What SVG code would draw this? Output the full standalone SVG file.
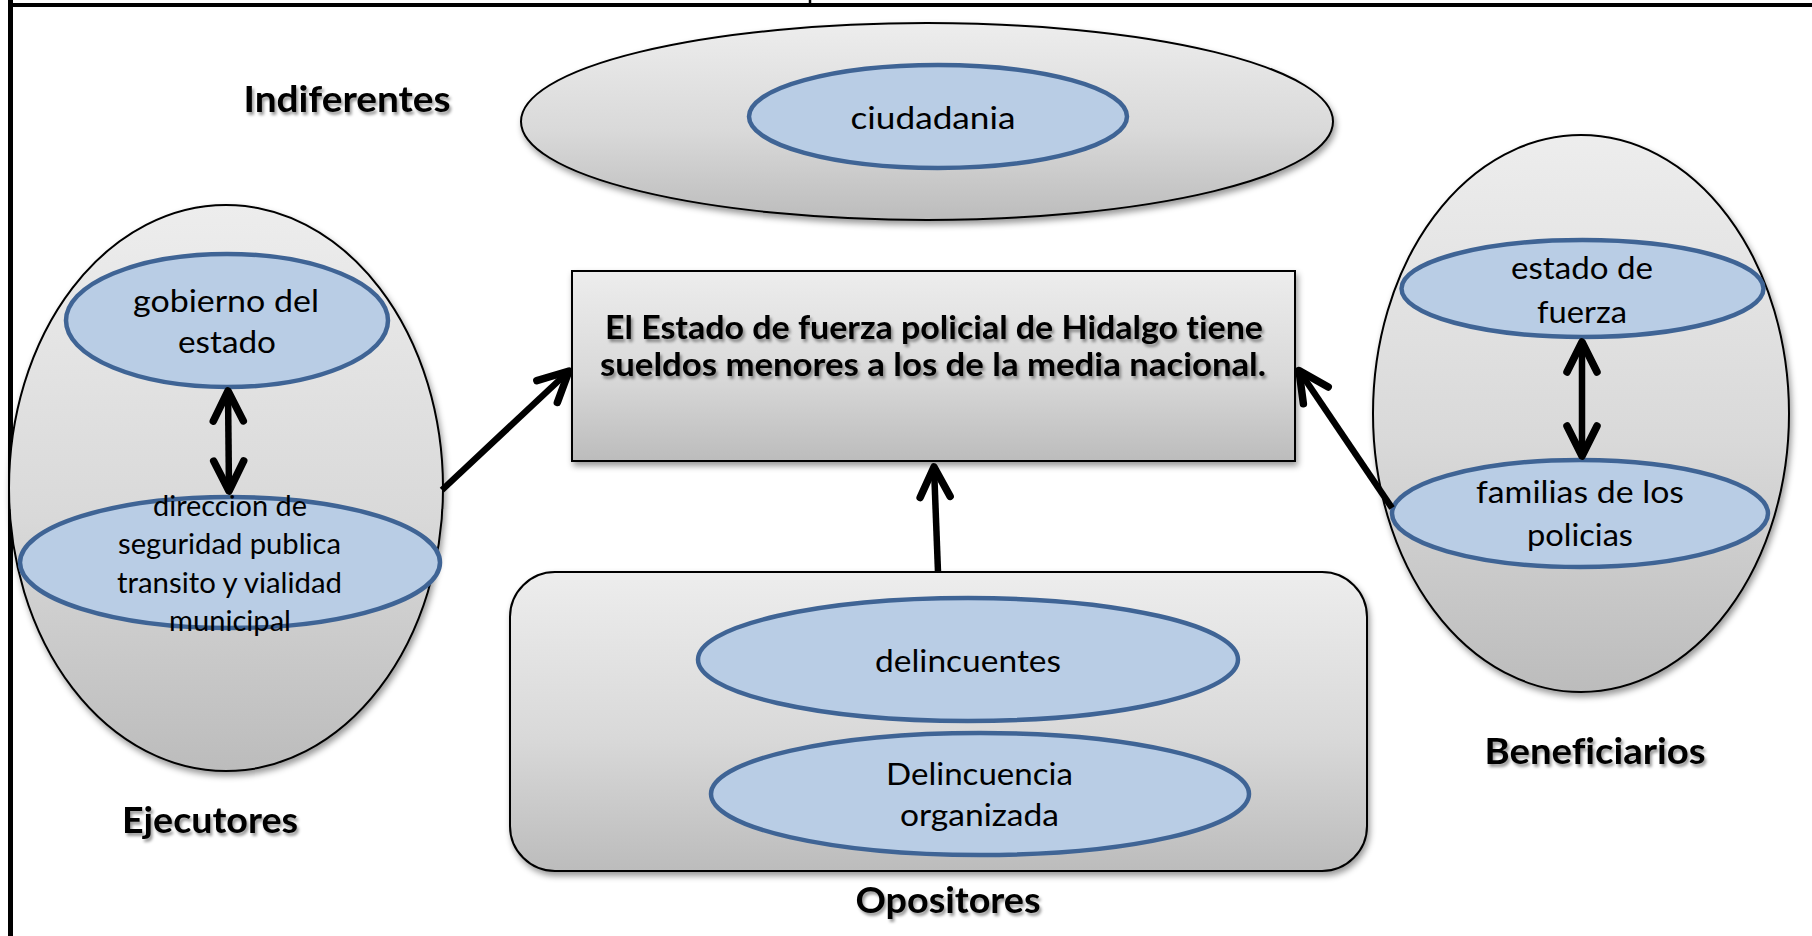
<svg xmlns="http://www.w3.org/2000/svg" width="1812" height="936" viewBox="0 0 1812 936">
<defs>
  <style>
    text { font-variant-ligatures: none; }
    .outer { fill: url(#gray); stroke: #000; stroke-width: 2; filter: url(#shadow); }
    .inner { fill: #b9cde5; stroke: #3f6495; stroke-width: 4.5; }
    .t { font-family: Lato, "Liberation Sans", sans-serif; font-size: 31px; fill: #000; text-anchor: middle; }
    .ts { font-size: 28px; }
    .lbl { font-family: Lato, "Liberation Sans", sans-serif; font-size: 36px; font-weight: bold; fill: #000; text-anchor: middle; filter: url(#tshadow); }
    .ttl { font-family: Lato, "Liberation Sans", sans-serif; font-size: 33px; font-weight: bold; fill: #000; text-anchor: middle; filter: url(#tshadow); }
    .frame { stroke: #000; fill: none; }
    .conn { stroke: #000; stroke-width: 6.5; fill: none; }
    .one { marker-end: url(#head); }
    .two { marker-start: url(#head); marker-end: url(#head); }
  </style>
  <linearGradient id="gray" x1="0" y1="0" x2="0" y2="1">
    <stop offset="0" stop-color="#ededed"/>
    <stop offset="0.55" stop-color="#d9d9d9"/>
    <stop offset="1" stop-color="#bcbcbc"/>
  </linearGradient>
  <filter id="shadow" x="-10%" y="-10%" width="125%" height="130%">
    <feDropShadow dx="2" dy="4" stdDeviation="3" flood-color="#000" flood-opacity="0.4"/>
  </filter>
  <filter id="tshadow" x="-10%" y="-30%" width="125%" height="170%">
    <feDropShadow dx="2" dy="3" stdDeviation="1.8" flood-color="#000" flood-opacity="0.4"/>
  </filter>
  <marker id="head" markerUnits="userSpaceOnUse" markerWidth="60" markerHeight="60" viewBox="-40 -30 50 60" refX="0" refY="0" orient="auto-start-reverse">
    <path d="M -30,-15 L 0,0 L -30,15" fill="none" stroke="#000" stroke-width="7.5" stroke-linecap="round" stroke-linejoin="round"/>
  </marker>
</defs>

<g id="frame">
  <line class="frame" x1="10.5" y1="0" x2="10.5" y2="936" stroke-width="5"/>
  <line class="frame" x1="8" y1="5" x2="1812" y2="5" stroke-width="4"/>
  <line class="frame" x1="810" y1="0" x2="810" y2="5" stroke-width="2.5"/>
</g>

<g id="indiferentes">
  <ellipse class="outer" cx="927" cy="121.5" rx="406" ry="98.5"/>
  <ellipse class="inner" cx="938" cy="116.5" rx="189" ry="51.5"/>
  <text class="t" x="933" y="129" textLength="165" lengthAdjust="spacingAndGlyphs">ciudadania</text>
  <text class="lbl" x="347" y="112" textLength="207" lengthAdjust="spacingAndGlyphs">Indiferentes</text>
</g>

<g id="ejecutores">
  <ellipse class="outer" cx="226" cy="488" rx="217" ry="283"/>
  <ellipse class="inner" cx="227" cy="320.5" rx="161" ry="66.5"/>
  <ellipse class="inner" cx="230" cy="562.5" rx="210" ry="65.5"/>
  <text class="t" x="226" y="312" textLength="186" lengthAdjust="spacingAndGlyphs">gobierno del</text>
  <text class="t" x="227" y="353" textLength="98" lengthAdjust="spacingAndGlyphs">estado</text>
  <text class="t ts" x="230" y="516" textLength="154" lengthAdjust="spacingAndGlyphs">direccion de</text>
  <text class="t ts" x="229.5" y="554" textLength="223" lengthAdjust="spacingAndGlyphs">seguridad publica</text>
  <text class="t ts" x="229.5" y="593" textLength="225" lengthAdjust="spacingAndGlyphs">transito y vialidad</text>
  <text class="t ts" x="230" y="631" textLength="122" lengthAdjust="spacingAndGlyphs">municipal</text>
  <text class="lbl" x="210" y="833" textLength="176" lengthAdjust="spacingAndGlyphs">Ejecutores</text>
</g>

<g id="beneficiarios">
  <ellipse class="outer" cx="1581" cy="413.5" rx="208" ry="278.5"/>
  <ellipse class="inner" cx="1582.5" cy="288.5" rx="181" ry="48.5"/>
  <ellipse class="inner" cx="1580" cy="513.5" rx="188" ry="53.5"/>
  <text class="t" x="1582" y="279" textLength="142" lengthAdjust="spacingAndGlyphs">estado de</text>
  <text class="t" x="1582" y="323" textLength="90" lengthAdjust="spacingAndGlyphs">fuerza</text>
  <text class="t" x="1580" y="503" textLength="208" lengthAdjust="spacingAndGlyphs">familias de los</text>
  <text class="t" x="1580" y="546" textLength="106" lengthAdjust="spacingAndGlyphs">policias</text>
  <text class="lbl" x="1595" y="764" textLength="221" lengthAdjust="spacingAndGlyphs">Beneficiarios</text>
</g>

<g id="problema">
  <rect class="outer" x="572" y="271" width="723" height="190"/>
  <text class="ttl" x="934" y="339" textLength="658" lengthAdjust="spacingAndGlyphs">El Estado de fuerza policial de Hidalgo tiene</text>
  <text class="ttl" x="933" y="376" textLength="666" lengthAdjust="spacingAndGlyphs">sueldos menores a los de la media nacional.</text>
</g>

<g id="opositores">
  <rect class="outer" x="510" y="572" width="857" height="299" rx="45" ry="45"/>
  <ellipse class="inner" cx="968" cy="659.5" rx="270" ry="61.5"/>
  <ellipse class="inner" cx="980" cy="794" rx="269" ry="61"/>
  <text class="t" x="968" y="672" textLength="186" lengthAdjust="spacingAndGlyphs">delincuentes</text>
  <text class="t" x="979.5" y="785" textLength="187" lengthAdjust="spacingAndGlyphs">Delincuencia</text>
  <text class="t" x="979.5" y="826" textLength="159" lengthAdjust="spacingAndGlyphs">organizada</text>
  <text class="lbl" x="948" y="913" textLength="185" lengthAdjust="spacingAndGlyphs">Opositores</text>
</g>

<g id="connectors">
  <line class="conn two" x1="228" y1="391" x2="229" y2="491"/>
  <line class="conn two" x1="1582" y1="342" x2="1582" y2="456"/>
  <line class="conn one" x1="442" y1="490" x2="569" y2="371"/>
  <line class="conn one" x1="1392" y1="508" x2="1299" y2="370.5"/>
  <line class="conn one" x1="938" y1="572" x2="934" y2="467"/>
</g>
</svg>
